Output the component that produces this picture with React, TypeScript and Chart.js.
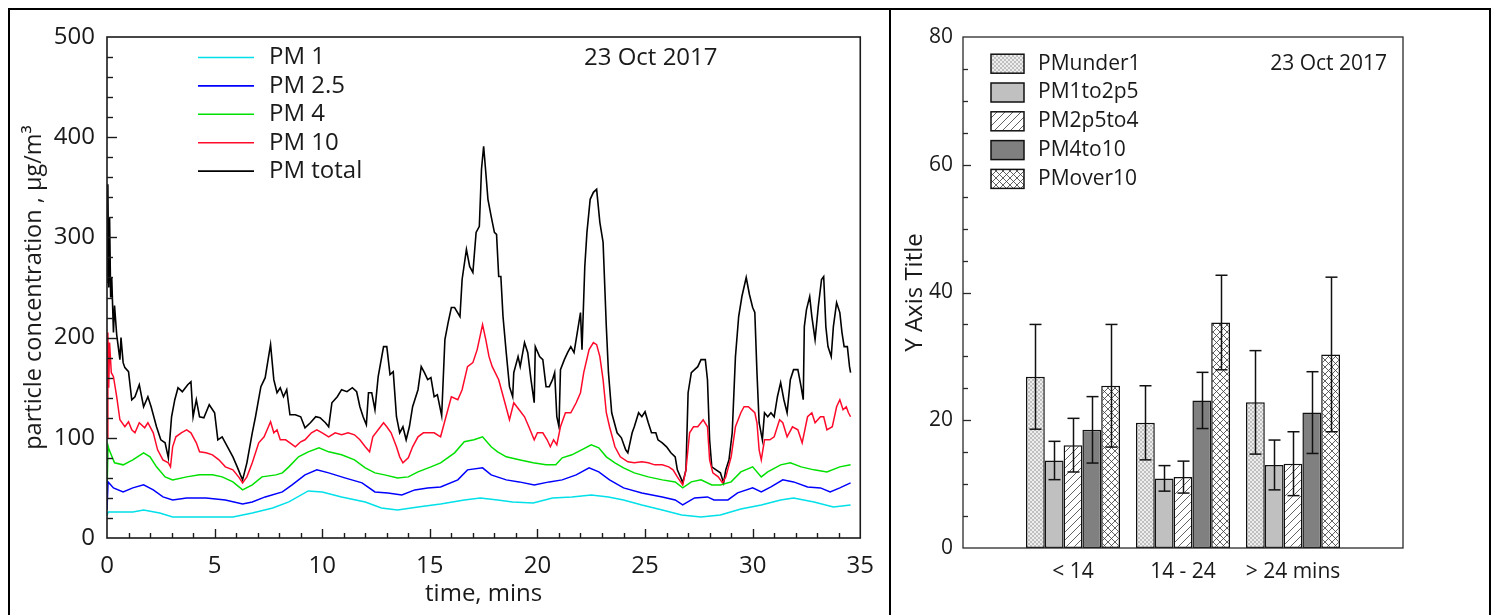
import React, { useEffect, useRef } from 'react';
import { Chart, registerables } from 'chart.js';

Chart.register(...registerables);

const FONT = '"Open Sans", "DejaVu Sans", sans-serif';
const TEXT = '#1a1a1a';

// ---------- Left chart: particle concentration over time (time in mins, value in ug/m3) ----------
const pm1Readings: [number, number][] = [
  [0, 22], [0.05, 26], [0.3, 26], [1.2, 26], [1.7, 28], [2.45, 25], [3.05, 21], [4.3, 21], [5.85, 21],
  [6.75, 25], [7.7, 30], [8.45, 36], [9.35, 47], [10.0, 46], [10.9, 41], [12.0, 36], [12.75, 30],
  [13.5, 28], [14.45, 31], [15.5, 34], [16.6, 38], [17.35, 40], [18.15, 38], [18.85, 36], [19.8, 35],
  [20.7, 40], [21.6, 41], [22.5, 43], [23.3, 41], [24.0, 38], [24.85, 33], [25.8, 28], [26.7, 23],
  [27.6, 21], [28.5, 23], [29.45, 29], [30.4, 33], [31.3, 38], [31.9, 40], [32.85, 36], [33.75, 31],
  [34.55, 33],
];

const pm25Readings: [number, number][] = [
  [0, 28], [0.05, 56], [0.3, 50], [0.75, 46], [1.2, 50], [1.7, 53], [2.15, 48], [2.6, 41], [3.05, 38],
  [3.7, 40], [4.6, 40], [5.5, 38], [6.3, 34], [6.75, 36], [7.35, 41], [8.15, 46], [8.6, 53], [9.2, 63],
  [9.75, 68], [10.3, 65], [11.05, 60], [11.85, 55], [12.45, 46], [13.05, 45], [13.7, 43], [14.3, 48],
  [14.9, 50], [15.5, 51], [16.3, 58], [16.75, 68], [17.45, 70], [17.85, 63], [18.55, 58], [19.15, 56],
  [19.85, 53], [20.55, 56], [21.15, 58], [21.8, 63], [22.4, 70], [22.85, 66], [23.35, 58], [24.0, 50],
  [24.85, 45], [25.8, 41], [26.4, 38], [26.75, 33], [27.3, 40], [27.9, 41], [28.2, 38], [28.85, 38],
  [29.3, 45], [30.0, 50], [30.4, 46], [30.85, 51], [31.4, 58], [31.9, 56], [32.55, 51], [33.15, 50],
  [33.6, 46], [34.05, 50], [34.55, 55],
];

const pm4Readings: [number, number][] = [
  [0, 45], [0.05, 92], [0.1, 88], [0.35, 75], [0.75, 73], [1.2, 78], [1.7, 85], [2.0, 81], [2.3, 71],
  [2.7, 61], [3.05, 58], [3.7, 61], [4.3, 63], [4.9, 63], [5.35, 61], [5.85, 56], [6.3, 48], [6.75, 53],
  [7.2, 61], [7.85, 63], [8.15, 65], [8.45, 71], [8.9, 81], [9.35, 86], [9.85, 90], [10.3, 86],
  [10.9, 83], [11.5, 78], [12.0, 70], [12.45, 65], [12.9, 63], [13.5, 60], [14.0, 61], [14.45, 66],
  [15.05, 71], [15.5, 75], [16.15, 85], [16.6, 96], [17.05, 98], [17.45, 101], [17.85, 91], [18.15, 86],
  [18.55, 81], [19.15, 78], [19.8, 75], [20.4, 73], [20.85, 73], [21.15, 80], [21.6, 83], [22.05, 88],
  [22.5, 93], [22.85, 90], [23.2, 81], [23.6, 75], [24.0, 70], [24.5, 65], [25.15, 61], [25.8, 58],
  [26.4, 56], [26.75, 50], [27.15, 56], [27.6, 58], [28.1, 53], [28.5, 53], [29.0, 56], [29.45, 66],
  [30.0, 71], [30.4, 61], [30.7, 66], [31.3, 73], [31.75, 75], [32.25, 71], [32.85, 68], [33.45, 66],
  [34.05, 71], [34.55, 73],
];

const pm10Readings: [number, number][] = [
  [0, 100], [0.04, 205], [0.08, 150], [0.12, 195], [0.2, 165], [0.3, 161], [0.45, 141], [0.6, 118],
  [0.83, 111], [1.0, 116], [1.15, 108], [1.3, 105], [1.5, 115], [1.75, 110], [1.9, 115], [2.15, 105],
  [2.35, 88], [2.6, 78], [2.85, 75], [2.95, 71], [3.05, 91], [3.2, 101], [3.45, 105], [3.7, 108],
  [3.9, 105], [4.15, 95], [4.3, 86], [4.6, 85], [4.9, 83], [5.2, 78], [5.5, 71], [5.85, 68], [6.15, 60],
  [6.3, 55], [6.5, 61], [6.75, 75], [7.05, 95], [7.3, 101], [7.5, 111], [7.6, 116], [7.75, 105],
  [7.9, 108], [8.05, 98], [8.3, 98], [8.5, 95], [8.75, 91], [9.0, 96], [9.2, 98], [9.5, 105],
  [9.75, 108], [10.0, 105], [10.3, 101], [10.6, 105], [10.9, 103], [11.2, 105], [11.5, 103],
  [11.75, 98], [12.0, 91], [12.2, 86], [12.35, 101], [12.6, 108], [12.85, 115], [13.0, 111],
  [13.2, 105], [13.45, 91], [13.6, 81], [13.75, 75], [14.0, 80], [14.2, 91], [14.45, 101], [14.7, 105],
  [14.9, 105], [15.2, 105], [15.5, 101], [15.75, 121], [16.0, 141], [16.3, 138], [16.5, 148],
  [16.75, 171], [17.0, 175], [17.2, 188], [17.45, 213], [17.6, 198], [17.75, 181], [17.9, 171],
  [18.2, 158], [18.45, 138], [18.7, 118], [18.9, 135], [19.15, 128], [19.4, 121], [19.6, 111],
  [19.85, 98], [20.0, 105], [20.25, 105], [20.45, 98], [20.6, 91], [20.75, 98], [20.9, 93],
  [21.07, 111], [21.3, 125], [21.55, 125], [21.8, 135], [22.0, 145], [22.15, 165], [22.4, 188],
  [22.6, 195], [22.75, 193], [22.9, 181], [23.05, 158], [23.2, 125], [23.35, 111], [23.6, 91],
  [23.85, 81], [24.2, 76], [24.5, 75], [24.85, 76], [25.15, 75], [25.45, 73], [25.8, 73], [26.1, 71],
  [26.3, 68], [26.5, 61], [26.75, 53], [26.9, 68], [27.07, 105], [27.25, 111], [27.45, 111],
  [27.7, 118], [27.9, 111], [28.0, 78], [28.15, 65], [28.4, 61], [28.6, 55], [28.75, 61], [29.0, 81],
  [29.2, 111], [29.45, 125], [29.6, 131], [29.8, 131], [30.1, 125], [30.2, 115], [30.3, 88],
  [30.4, 78], [30.55, 98], [30.8, 98], [31.0, 101], [31.25, 118], [31.4, 115], [31.6, 101],
  [31.85, 111], [32.1, 108], [32.3, 95], [32.55, 121], [32.75, 125], [32.9, 115], [33.15, 121],
  [33.3, 121], [33.45, 108], [33.7, 111], [33.9, 131], [34.05, 138], [34.2, 128], [34.35, 131],
  [34.45, 125], [34.55, 121],
];

const pmTotalReadings: [number, number][] = [
  [0, 255], [0.04, 353], [0.08, 250], [0.12, 320], [0.17, 240], [0.22, 260], [0.3, 205], [0.35, 232],
  [0.45, 203], [0.6, 178], [0.65, 200], [0.75, 175], [0.83, 170], [1.0, 166], [1.15, 138], [1.3, 141],
  [1.5, 153], [1.7, 131], [1.9, 141], [2.05, 131], [2.3, 111], [2.5, 98], [2.7, 95], [2.85, 80],
  [3.0, 121], [3.15, 138], [3.3, 150], [3.5, 146], [3.75, 153], [3.9, 156], [4.0, 121], [4.15, 138],
  [4.3, 121], [4.5, 120], [4.75, 133], [5.0, 125], [5.15, 98], [5.35, 101], [5.6, 91], [5.85, 81],
  [6.05, 71], [6.2, 63], [6.3, 58], [6.5, 75], [6.75, 105], [6.9, 121], [7.15, 151], [7.35, 160],
  [7.5, 180], [7.6, 193], [7.75, 158], [7.9, 145], [8.05, 150], [8.2, 141], [8.35, 148], [8.5, 123],
  [8.75, 123], [9.0, 121], [9.2, 110], [9.45, 115], [9.7, 121], [9.9, 120], [10.15, 115], [10.3, 111],
  [10.45, 135], [10.7, 141], [10.9, 148], [11.15, 146], [11.4, 150], [11.6, 146], [11.75, 131],
  [11.9, 121], [12.05, 113], [12.15, 145], [12.3, 145], [12.45, 128], [12.6, 161], [12.85, 191],
  [13.0, 191], [13.15, 163], [13.3, 166], [13.45, 121], [13.6, 105], [13.75, 111], [13.9, 98],
  [14.05, 111], [14.2, 131], [14.45, 148], [14.6, 171], [14.75, 165], [14.9, 158], [15.05, 160],
  [15.2, 141], [15.35, 143], [15.55, 122], [15.7, 198], [15.85, 215], [16.0, 230], [16.15, 230],
  [16.4, 221], [16.5, 258], [16.7, 288], [16.85, 271], [17.0, 265], [17.15, 305], [17.3, 311],
  [17.4, 368], [17.5, 391], [17.6, 365], [17.7, 338], [17.85, 321], [18.0, 305], [18.1, 303],
  [18.2, 261], [18.3, 261], [18.4, 221], [18.55, 185], [18.7, 151], [18.85, 141], [18.9, 165],
  [19.1, 181], [19.2, 171], [19.4, 195], [19.55, 185], [19.7, 158], [19.85, 135], [19.9, 191],
  [20.1, 181], [20.25, 178], [20.4, 151], [20.55, 151], [20.7, 158], [20.8, 165], [20.9, 121],
  [21.0, 111], [21.07, 168], [21.25, 178], [21.4, 185], [21.55, 191], [21.7, 185], [21.85, 205],
  [22.0, 225], [22.07, 188], [22.2, 271], [22.3, 305], [22.45, 338], [22.6, 345], [22.75, 348],
  [22.9, 315], [23.05, 295], [23.2, 211], [23.3, 165], [23.45, 125], [23.7, 105], [23.9, 100],
  [24.1, 88], [24.2, 85], [24.4, 105], [24.5, 111], [24.7, 125], [24.85, 121], [25.0, 126],
  [25.15, 115], [25.3, 105], [25.5, 105], [25.6, 98], [25.8, 95], [26.0, 91], [26.2, 85], [26.4, 81],
  [26.5, 68], [26.7, 58], [26.75, 55], [26.9, 68], [27.0, 145], [27.15, 165], [27.3, 168],
  [27.45, 171], [27.6, 178], [27.8, 178], [27.9, 158], [28.0, 98], [28.1, 71], [28.3, 68], [28.5, 65],
  [28.65, 55], [28.75, 68], [28.9, 78], [29.05, 105], [29.2, 181], [29.35, 221], [29.5, 241],
  [29.7, 260], [29.85, 243], [30.0, 230], [30.1, 225], [30.2, 165], [30.3, 115], [30.45, 98],
  [30.55, 125], [30.7, 121], [30.85, 125], [31.0, 121], [31.15, 141], [31.3, 155], [31.45, 138],
  [31.6, 125], [31.75, 158], [31.9, 168], [32.1, 168], [32.25, 151], [32.35, 138], [32.4, 211],
  [32.5, 228], [32.65, 241], [32.75, 221], [32.9, 198], [33.05, 231], [33.2, 258], [33.3, 261],
  [33.4, 211], [33.5, 191], [33.65, 181], [33.75, 211], [33.9, 235], [34.05, 225], [34.15, 205],
  [34.25, 191], [34.4, 191], [34.5, 171], [34.55, 165],
];

const lineSeriesLabels = ['PM 1', 'PM 2.5', 'PM 4', 'PM 10', 'PM total'];
const lineSeriesColors = ['#00e0e8', '#0000ff', '#00e000', '#ff0a2a', '#000000'];
const lineSeriesData = [pm1Readings, pm25Readings, pm4Readings, pm10Readings, pmTotalReadings];
const dateLabel = '23 Oct 2017';

// ---------- Right chart: size-fraction means with error bars ----------
const sizeCategories = ['< 14', '14 - 24', '> 24 mins'];
const barSeriesLabels = ['PMunder1', 'PM1to2p5', 'PM2p5to4', 'PM4to10', 'PMover10'];
const pmUnder1Mean = [26.8, 19.6, 22.8];
const pmUnder1Err = [8.2, 5.8, 8.1];
const pm1to2p5Mean = [13.7, 10.9, 13.0];
const pm1to2p5Err = [3.0, 2.0, 3.9];
const pm2p5to4Mean = [16.1, 11.1, 13.2];
const pm2p5to4Err = [4.2, 2.5, 5.0];
const pm4to10Mean = [18.5, 23.1, 21.2];
const pm4to10Err = [5.2, 4.4, 6.4];
const pmOver10Mean = [25.4, 35.3, 30.3];
const pmOver10Err = [9.6, 7.4, 12.1];
const barMeans = [pmUnder1Mean, pm1to2p5Mean, pm2p5to4Mean, pm4to10Mean, pmOver10Mean];
const barErrs = [pmUnder1Err, pm1to2p5Err, pm2p5to4Err, pm4to10Err, pmOver10Err];
const barFills = ['fine', '#c0c0c0', 'slash', '#808080', 'cross'];

function makeFill(kind: string): any {
  if (kind.startsWith('#')) return kind;
  const s = kind === 'fine' ? 4 : kind === 'cross' ? 7 : 8;
  const c = document.createElement('canvas');
  c.width = s;
  c.height = s;
  const g = c.getContext('2d')!;
  g.fillStyle = kind === 'fine' ? '#eeeeee' : '#ffffff';
  g.fillRect(0, 0, s, s);
  g.strokeStyle = kind === 'fine' ? '#a0a0a0' : '#3a3a3a';
  g.lineWidth = kind === 'fine' ? 0.6 : 0.8;
  const slash = () => {
    for (const o of [-s, 0, s]) {
      g.beginPath();
      g.moveTo(o, s);
      g.lineTo(o + s, 0);
      g.stroke();
    }
  };
  const back = () => {
    for (const o of [-s, 0, s]) {
      g.beginPath();
      g.moveTo(o, 0);
      g.lineTo(o + s, s);
      g.stroke();
    }
  };
  slash();
  if (kind !== 'slash') back();
  return g.createPattern(c, 'repeat');
}

function seg(ctx: CanvasRenderingContext2D, x1: number, y1: number, x2: number, y2: number) {
  ctx.beginPath();
  ctx.moveTo(x1, y1);
  ctx.lineTo(x2, y2);
  ctx.stroke();
}

const leftDecor = {
  id: 'leftDecor',
  afterDatasetsDraw(chart: any) {
    const ctx: CanvasRenderingContext2D = chart.ctx;
    const { left, top, right, bottom } = chart.chartArea;
    const xs = chart.scales.x;
    const ys = chart.scales.y;
    ctx.save();
    ctx.strokeStyle = '#1a1a1a';
    ctx.lineWidth = 1.6;
    ctx.strokeRect(left, top, right - left, bottom - top);
    ctx.lineWidth = 1.4;
    for (let v = ys.min + 20; v < ys.max; v += 20) {
      const p = Math.round(ys.getPixelForValue(v)) + 0.5;
      seg(ctx, left, p, left + (v % 100 === 0 ? 10 : 6), p);
    }
    for (let v = xs.min + 1; v < xs.max; v += 1) {
      const p = Math.round(xs.getPixelForValue(v)) + 0.5;
      seg(ctx, p, bottom, p, bottom - (v % 5 === 0 ? 9 : 5));
    }
    ctx.font = `24px ${FONT}`;
    ctx.textBaseline = 'middle';
    chart.data.datasets.forEach((ds: any, i: number) => {
      const y = top + 20.5 + i * 28.4;
      ctx.strokeStyle = ds.borderColor;
      ctx.lineWidth = 1.6;
      seg(ctx, left + 91, y, left + 147, y);
      ctx.fillStyle = TEXT;
      ctx.textAlign = 'left';
      ctx.fillText(ds.label, left + 162, y);
    });
    ctx.fillText(dateLabel, left + 477, top + 21);
    ctx.restore();
  },
};

const rightDecor = {
  id: 'rightDecor',
  afterDatasetsDraw(chart: any) {
    const ctx: CanvasRenderingContext2D = chart.ctx;
    const { left, top, right, bottom } = chart.chartArea;
    const ys = chart.scales.y;
    ctx.save();
    // error bars
    ctx.strokeStyle = '#111';
    ctx.lineWidth = 1.5;
    chart.data.datasets.forEach((ds: any, i: number) => {
      const meta = chart.getDatasetMeta(i);
      meta.data.forEach((el: any, j: number) => {
        const v = ds.data[j];
        const e = ds.errors[j];
        if (v == null || e == null) return;
        const x = Math.round(el.x) + 0.5;
        const yt = ys.getPixelForValue(v + e);
        const yb = ys.getPixelForValue(v - e);
        seg(ctx, x, yt, x, yb);
        seg(ctx, x - 6, yt, x + 6, yt);
        seg(ctx, x - 6, yb, x + 6, yb);
      });
    });
    // frame
    ctx.strokeStyle = '#2a2a2a';
    ctx.lineWidth = 1.3;
    ctx.strokeRect(left, top, right - left, bottom - top);
    for (let v = ys.min + 5; v < ys.max; v += 5) {
      const p = Math.round(ys.getPixelForValue(v)) + 0.5;
      seg(ctx, left, p, left + (v % 20 === 0 ? 8 : 5), p);
    }
    // legend
    ctx.font = `21px ${FONT}`;
    ctx.textBaseline = 'middle';
    chart.data.datasets.forEach((ds: any, i: number) => {
      const y = top + 26.7 + i * 28.8;
      ctx.fillStyle = ds.backgroundColor;
      ctx.fillRect(left + 28, y - 9.5, 33, 19);
      ctx.strokeStyle = '#111';
      ctx.lineWidth = 1.5;
      ctx.strokeRect(left + 28, y - 9.5, 33, 19);
      ctx.fillStyle = TEXT;
      ctx.textAlign = 'left';
      ctx.fillText(ds.label, left + 75, y);
    });
    ctx.textAlign = 'right';
    ctx.fillText(dateLabel, right - 16, top + 27);
    ctx.restore();
  },
};

export default function App() {
  const leftRef = useRef<HTMLCanvasElement>(null);
  const rightRef = useRef<HTMLCanvasElement>(null);

  useEffect(() => {
    const tickFontL = { family: FONT, size: 24 };
    const left = new Chart(leftRef.current!, {
      type: 'line',
      data: {
        datasets: lineSeriesData.map((series, i) => ({
          label: lineSeriesLabels[i],
          data: series.map(([t, v]) => ({ x: t, y: v })),
          borderColor: lineSeriesColors[i],
          borderWidth: i === 4 ? 1.6 : 1.5,
          pointRadius: 0,
          tension: 0,
          fill: false,
          order: i === 4 ? 1 : 0,
        })),
      },
      options: {
        animation: false,
        responsive: false,
        maintainAspectRatio: false,
        layout: { padding: { top: 27, right: 23, left: 0, bottom: 0 } },
        plugins: { legend: { display: false }, tooltip: { enabled: false } },
        scales: {
          x: {
            type: 'linear',
            min: 0,
            max: 35,
            grid: { display: false, drawTicks: false },
            border: { display: false },
            ticks: { stepSize: 5, padding: 14, font: tickFontL, color: TEXT, maxRotation: 0 },
            title: { display: true, text: 'time, mins', font: tickFontL, color: TEXT, padding: { top: 0, bottom: 6 } },
            afterFit: (s: any) => { s.height = 77; },
          },
          y: {
            type: 'linear',
            min: 0,
            max: 500,
            grid: { display: false, drawTicks: false },
            border: { display: false },
            ticks: { stepSize: 100, padding: 12, font: tickFontL, color: TEXT },
            title: { display: true, text: 'particle concentration , μg/m³', font: { family: FONT, size: 23.5 }, color: TEXT, padding: { top: 10, bottom: 0 } },
            afterFit: (s: any) => { s.width = 97; },
          },
        },
      },
      plugins: [leftDecor],
    } as any);

    const tickFontR = { family: FONT, size: 21 };
    const right = new Chart(rightRef.current!, {
      type: 'bar',
      data: {
        labels: ['', ...sizeCategories, ''],
        datasets: barSeriesLabels.map((name, i) => ({
          label: name,
          data: [null, ...barMeans[i], null],
          errors: [null, ...barErrs[i], null],
          backgroundColor: makeFill(barFills[i]),
          borderColor: '#111',
          borderWidth: 1.5,
          borderSkipped: false,
          categoryPercentage: 0.855,
          barPercentage: 1,
        })),
      },
      options: {
        animation: false,
        responsive: false,
        maintainAspectRatio: false,
        layout: { padding: { top: 27, right: 86, left: 0, bottom: 0 } },
        plugins: { legend: { display: false }, tooltip: { enabled: false } },
        scales: {
          x: {
            type: 'category',
            offset: false,
            grid: { display: false, drawTicks: false },
            border: { display: false },
            ticks: { padding: 11, font: tickFontR, color: TEXT, autoSkip: false, maxRotation: 0 },
            afterFit: (s: any) => { s.height = 67; },
          },
          y: {
            min: 0,
            max: 80,
            grid: { display: false, drawTicks: false },
            border: { display: false },
            ticks: { stepSize: 20, padding: 10, font: tickFontR, color: TEXT },
            title: { display: true, text: 'Y Axis Title', font: { family: FONT, size: 24 }, color: TEXT, padding: { top: 10, bottom: 0 } },
            afterFit: (s: any) => { s.width = 72; },
          },
        },
      },
      plugins: [rightDecor],
    } as any);

    return () => {
      left.destroy();
      right.destroy();
    };
  }, []);

  return (
    <div>
      <div
        style={{
          position: 'fixed',
          left: 8,
          top: 8,
          width: 1483,
          height: 640,
          boxSizing: 'border-box',
          border: '2px solid #000',
          background: '#fff',
        }}
      />
      <div style={{ position: 'fixed', left: 889, top: 8, width: 2, height: 640, background: '#000' }} />
      <canvas
        ref={leftRef}
        width={878}
        height={605}
        style={{ position: 'fixed', left: 10, top: 10, width: 878, height: 605 }}
      />
      <canvas
        ref={rightRef}
        width={598}
        height={605}
        style={{ position: 'fixed', left: 891, top: 10, width: 598, height: 605 }}
      />
    </div>
  );
}
